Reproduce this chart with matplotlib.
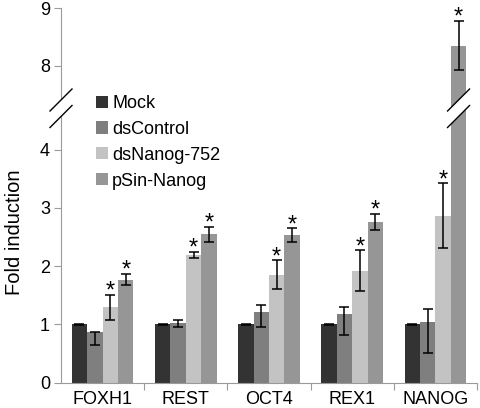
import matplotlib
matplotlib.use('Agg')
import matplotlib.pyplot as plt
from matplotlib.patches import Polygon, Rectangle
from matplotlib.lines import Line2D
import numpy as np

plt.rcParams['font.family'] = ['Liberation Sans', 'DejaVu Sans']

# datos
genes = ['FOXH1', 'REST', 'OCT4', 'REX1', 'NANOG']
series = ['Mock', 'dsControl', 'dsNanog-752', 'pSin-Nanog']

mock = [1.0, 1.0, 1.0, 1.0, 1.0]
mock_err = [0.01, 0.01, 0.01, 0.01, 0.01]

dscontrol = [0.86, 1.02, 1.21, 1.18, 1.04]
dscontrol_lo = [0.22, 0.06, 0.26, 0.36, 0.54]
dscontrol_hi = [0.0, 0.06, 0.13, 0.12, 0.22]

dsnanog = [1.29, 2.19, 1.85, 1.92, 2.87]
dsnanog_err = [0.21, 0.05, 0.25, 0.35, 0.55]

psin = [1.77, 2.55, 2.53, 2.76, 8.35]
psin_err = [0.10, 0.13, 0.12, 0.14, 0.43]

# que barras llevan asterisco
star_nanog = [True, True, True, True, True]
star_psin = [True, True, True, True, True]

colores = ['#333333', '#7f7f7f', '#c3c3c3', '#969696']

W, H = 480, 408
fig = plt.figure(figsize=(W / 100, H / 100), dpi=100)

left, right = 61 / W, 477 / W
low_bot, low_top = 382.5, 116
up_bot, up_top = 100, 8.3
ax = fig.add_axes([left, 1 - low_bot / H, right - left, (low_bot - low_top) / H])
ax2 = fig.add_axes([left, 1 - up_bot / H, right - left, (up_bot - up_top) / H])

x = np.arange(len(genes))
w = 0.1855
valores = [mock, dscontrol, dsnanog, psin]
errores = [[mock_err, mock_err], [dscontrol_lo, dscontrol_hi],
           [dsnanog_err, dsnanog_err], [psin_err, psin_err]]
estrellas = [[False] * 5, [False] * 5, star_nanog, star_psin]

for a in (ax, ax2):
    for i in range(4):
        pos = x + (i - 1.5) * w
        a.bar(pos, valores[i], w, color=colores[i], label=series[i], zorder=2)
        a.errorbar(pos, valores[i], yerr=errores[i], fmt='none', ecolor='black',
                   elinewidth=1.1, capsize=3.5, capthick=1.1, zorder=3)
        tops = np.array(valores[i]) + np.array(errores[i][1])
        for p, t, s in zip(pos, tops, estrellas[i]):
            if s:
                a.annotate('*', (p, t), xytext=(0, -2), textcoords='offset points',
                           ha='center', va='baseline', fontsize=17)
    a.set_xlim(-0.5, 4.5)
    for s in ['top', 'right']:
        a.spines[s].set_visible(False)
    a.spines['left'].set_color('#9a9a9a')
    a.spines['bottom'].set_color('#9a9a9a')
    a.tick_params(axis='y', colors='#9a9a9a', labelcolor='black', labelsize=13,
                  length=5, direction='out', pad=3)

ax.set_ylim(0, 4.58)
ax.set_yticks([0, 1, 2, 3, 4])
ax.set_xticks(np.arange(0.5, 5, 1))
ax.set_xticks(x, minor=True)
ax.set_xticklabels(genes, minor=True)
ax.tick_params(axis='x', which='major', labelbottom=False, length=5,
               colors='#9a9a9a')
ax.tick_params(axis='x', which='minor', length=0, labelsize=13, pad=6)

ax2.set_ylim(7.4, 9.0)
ax2.set_yticks([8, 9])
ax2.spines['bottom'].set_visible(False)
ax2.set_xticks([])

# marcas de corte del eje y de la barra de NANOG
y_arr = 1 - up_bot / H
y_abj = 1 - (low_top + 0.5) / H

def corte(xc):
    dx = 11 / W
    dy = 11 / H
    pts = [(xc - dx, y_arr - dy), (xc + dx, y_arr + dy),
           (xc + dx, y_abj + dy), (xc - dx, y_abj - dy)]
    fig.add_artist(Polygon(pts, closed=True, facecolor='white', edgecolor='none',
                           transform=fig.transFigure, zorder=10))
    for ya in (y_arr, y_abj):
        fig.add_artist(Line2D([xc - dx, xc + dx], [ya - dy, ya + dy], color='black',
                              lw=1, transform=fig.transFigure, zorder=11))

def a_fig(xd):
    return left + (xd + 0.5) / 5 * (right - left)

corte(left)
# la barra de pSin-Nanog continua por el hueco entre los dos ejes
xb = 4 + 1.5 * w
fig.add_artist(Rectangle((a_fig(xb - w / 2), y_abj - 0.002),
                         a_fig(xb + w / 2) - a_fig(xb - w / 2), y_arr - y_abj + 0.004,
                         facecolor=colores[3], edgecolor='none',
                         transform=fig.transFigure, zorder=9))
corte(a_fig(xb))

fig.text(15 / W, 1 - 232 / H, 'Fold induction', rotation=90, ha='center',
         va='center', fontsize=14.5)

fig.legend(*ax.get_legend_handles_labels(), loc='upper left',
           bbox_to_anchor=(96 / W, 1 - 95 / H), frameon=False, fontsize=13,
           handlelength=0.65, handleheight=0.65, handletextpad=0.25,
           labelspacing=0.49, borderpad=0, borderaxespad=0)

plt.savefig('out.png', dpi=100)
